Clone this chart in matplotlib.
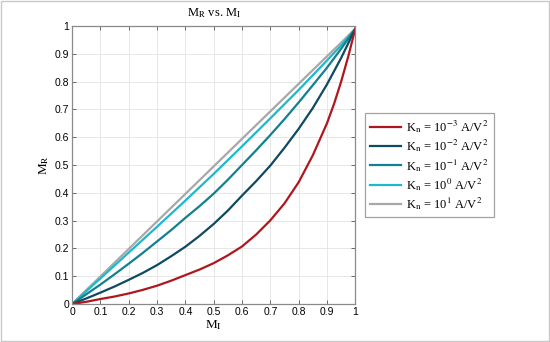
import numpy as np
import matplotlib.pyplot as plt
from matplotlib.patches import Rectangle

# --- DATA ---
MI_red = [0.0, 0.05, 0.1, 0.15, 0.2, 0.25, 0.3, 0.35, 0.4, 0.45, 0.5, 0.55, 0.6, 0.65,
          0.7, 0.75, 0.8, 0.85, 0.9, 0.925, 0.95, 0.975, 1.0]
MR_kn_m3 = [0.0, 0.008, 0.018, 0.027, 0.038, 0.051, 0.066, 0.084, 0.104, 0.124, 0.147,
            0.175, 0.207, 0.25, 0.301, 0.362, 0.438, 0.535, 0.65, 0.72, 0.8, 0.89, 0.99]

MI_fine = [0.0, 0.05, 0.1, 0.15, 0.2, 0.25, 0.3, 0.35, 0.4, 0.45, 0.5, 0.55, 0.6, 0.65,
           0.7, 0.75, 0.8, 0.85, 0.9, 0.95, 1.0]
MR_kn_m2 = [0.0, 0.02, 0.041, 0.063, 0.087, 0.112, 0.14, 0.172, 0.206, 0.245, 0.288,
            0.336, 0.39, 0.442, 0.498, 0.562, 0.63, 0.705, 0.79, 0.885, 0.99]
MR_kn_m1 = [0.0, 0.035, 0.07, 0.107, 0.145, 0.184, 0.225, 0.266, 0.31, 0.352, 0.397,
            0.447, 0.5, 0.553, 0.608, 0.665, 0.725, 0.787, 0.85, 0.918, 0.99]

MI_coarse = [0.0, 0.05, 0.1, 0.2, 0.3, 0.4, 0.5, 0.6, 0.7, 0.8, 0.9, 0.95, 1.0]
MR_kn_0 = [0.0, 0.046, 0.092, 0.185, 0.278, 0.372, 0.468, 0.567, 0.668, 0.77, 0.876, 0.93, 0.99]
MR_kn_1 = [0.0, 0.05, 0.099, 0.198, 0.297, 0.396, 0.495, 0.594, 0.693, 0.792, 0.891, 0.94, 0.99]

exponents = ["-3", "-2", "-1", "0", "1"]
colors = ["#B0161E", "#0E4A60", "#12808F", "#1DB8CB", "#A8A8A8"]

plt.rcParams['mathtext.fontset'] = 'stix'

fig = plt.figure(figsize=(5.5, 3.42), dpi=100)
fig.patches.append(Rectangle((0.002, 0.003), 0.996, 0.994, transform=fig.transFigure,
                             fill=False, edgecolor="#C8C8C8", linewidth=1.0))
ax = fig.add_axes([0.131, 0.111, 0.515, 0.813])

xs = [MI_red, MI_fine, MI_fine, MI_coarse, MI_coarse]
series = [MR_kn_m3, MR_kn_m2, MR_kn_m1, MR_kn_0, MR_kn_1]
# draw gray first so the others sit on top, keep legend order
for i in reversed(range(len(series))):
    ax.plot(xs[i], series[i], color=colors[i], linewidth=1.6,
            label=r"K$_\mathrm{n}$ = 10$^{%s}$ A/V$^2$" % exponents[i])

ax.set_xlim(0, 1)
ax.set_ylim(0, 1)
ticks = np.round(np.arange(0, 1.01, 0.1), 1)
ax.set_xticks(ticks)
ax.set_yticks(ticks)
ax.set_xticklabels([f"{t:g}" for t in ticks], fontsize=7.5, family="Liberation Sans")
ax.set_yticklabels([f"{t:g}" for t in ticks], fontsize=7.5, family="Liberation Sans")
ax.tick_params(direction="in", length=3, width=0.6, top=True, right=True, pad=2,
               color="#555555")
ax.grid(True, color="#E3E3E3", linewidth=0.6)
ax.set_axisbelow(True)
for s in ax.spines.values():
    s.set_color("#8A8A8A")
    s.set_linewidth(0.9)

ax.set_title(r"M$_\mathrm{R}$ vs. M$_\mathrm{I}$", fontsize=9, family="Liberation Serif", pad=7)
ax.set_xlabel(r"M$_\mathrm{I}$", fontsize=9.5, family="Liberation Serif", labelpad=1)
ax.set_ylabel(r"M$_\mathrm{R}$", fontsize=9.5, family="Liberation Serif", labelpad=3)

h, l = ax.get_legend_handles_labels()
leg = ax.legend(h[::-1], l[::-1], loc="center left", bbox_to_anchor=(0.664, 0.517),
                bbox_transform=fig.transFigure, prop={"family": "Liberation Serif", "size": 9},
                frameon=True, fancybox=False, handlelength=2.5, handletextpad=0.4,
                labelspacing=0.2, borderpad=0.4, borderaxespad=0)
leg.get_frame().set_edgecolor("#8A8A8A")
leg.get_frame().set_linewidth(0.9)

fig.savefig("out.png", dpi=100)
